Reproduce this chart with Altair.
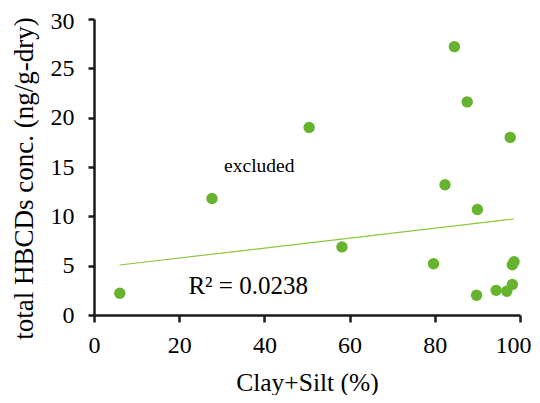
import altair as alt
import pandas as pd

clay_silt = [6.05, 27.7, 50.5, 58.2, 79.7, 82.4, 84.6, 87.6, 90.0, 89.8, 94.4, 96.9, 97.7, 98.2, 98.2, 98.6]
hbcd = [2.2, 11.8, 19.0, 6.9, 5.2, 13.2, 27.2, 21.6, 10.7, 2.0, 2.5, 2.4, 18.0, 3.1, 5.1, 5.4]

trend_x = [6.0, 98.6]
trend_y = [5.07, 9.73]

x_ticks = [0, 20, 40, 60, 80, 100]
y_ticks = [0, 5, 10, 15, 20, 25, 30]

notes_text = ["excluded", "R² = 0.0238"]
notes_x = [38.8, 36.2]
notes_y = [15.1, 2.9]

FONT = "Liberation Serif"

pts = pd.DataFrame({"x": clay_silt, "y": hbcd})
trend = pd.DataFrame({"x": trend_x, "y": trend_y})
notes = pd.DataFrame({"t": notes_text, "x": notes_x, "y": notes_y})

xs = alt.Scale(domain=[0, 100], nice=False, zero=False)
ys = alt.Scale(domain=[0, 30], nice=False, zero=False)

x_axis = alt.Axis(
    values=x_ticks, grid=False, tickSize=7, labelPadding=11, labelFontSize=24,
    labelFont=FONT, labelColor="black", titleFont=FONT, titleFontSize=25.5,
    titleFontWeight="normal", titleColor="black", domainColor="#1a1a1a",
    domainWidth=2.5, tickColor="#1a1a1a", tickWidth=2.5, titleBaseline="alphabetic",
    titleY=75, titleX=213, labelFlush=False,
    labelOffset={"condition": {"test": "datum.value == 100", "value": -7}, "value": 0},
)
y_axis = alt.Axis(
    values=y_ticks, grid=False, tickSize=6, labelPadding=14, labelFontSize=24,
    labelFont=FONT, labelColor="black", titleFont=FONT, titleFontSize=27,
    titleFontWeight="normal", titleColor="black", domainColor="#1a1a1a",
    domainWidth=2.5, tickColor="#1a1a1a", tickWidth=2.5, titleAngle=270,
    titleBaseline="alphabetic", titleX=-61.5, titleY=159, labelFlush=False,
    labelOffset={"condition": {"test": "datum.value == 30", "value": 2}, "value": 0},
)

points = alt.Chart(pts).mark_circle(size=130, opacity=1, color="#66b32e").encode(
    x=alt.X("x:Q", scale=xs, axis=x_axis, title="Clay+Silt (%)"),
    y=alt.Y("y:Q", scale=ys, axis=y_axis, title="total HBCDs conc. (ng/g-dry)"),
)

line = alt.Chart(trend).mark_line(color="#8cc63f", strokeWidth=1.2).encode(
    x=alt.X("x:Q", scale=xs),
    y=alt.Y("y:Q", scale=ys),
)

text_excl = alt.Chart(notes.iloc[[0]]).mark_text(
    font=FONT, fontSize=19.5, color="black", align="center", baseline="middle"
).encode(x=alt.X("x:Q", scale=xs), y=alt.Y("y:Q", scale=ys), text="t:N")

text_r2 = alt.Chart(notes.iloc[[1]]).mark_text(
    font=FONT, fontSize=25, color="black", align="center", baseline="middle"
).encode(x=alt.X("x:Q", scale=xs), y=alt.Y("y:Q", scale=ys), text="t:N")

chart = alt.layer(line, points, text_excl, text_r2).properties(
    width=426, height=296,
    autosize=alt.AutoSizeParams(type="none"),
    padding={"left": 86, "top": 11, "right": 12, "bottom": 80},
    background="white",
).configure_view(stroke=None)

chart.save("out.html", embed_options={"renderer": "svg", "actions": False})
